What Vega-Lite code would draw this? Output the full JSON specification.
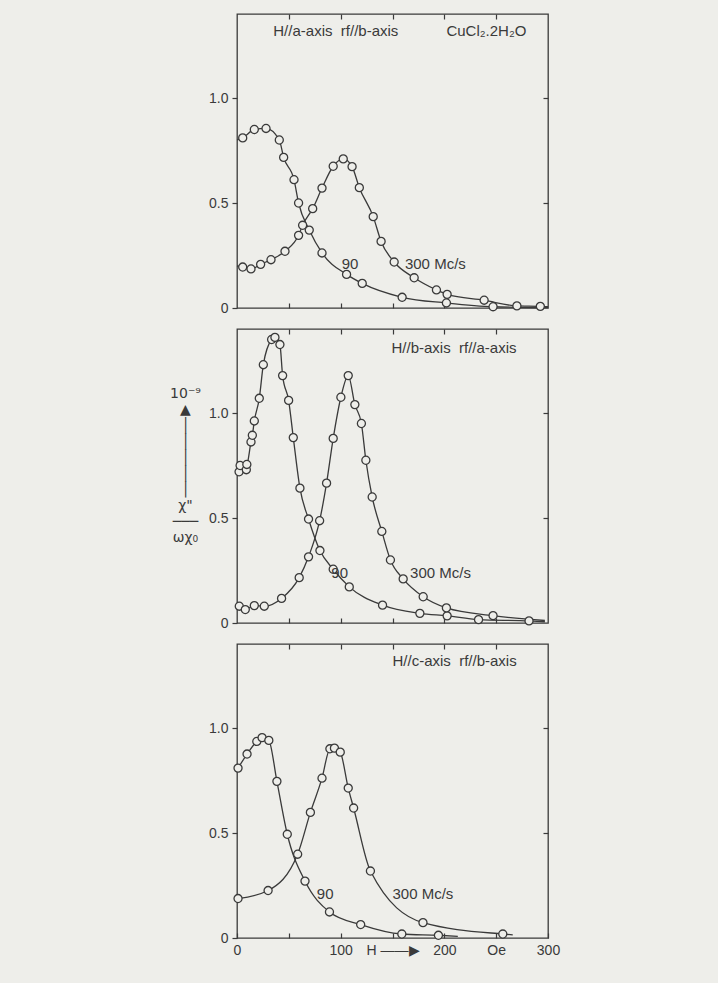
{
  "$schema": "https://vega.github.io/schema/vega-lite/v6.json",
  "background": "#eeeeea",
  "padding": {"left": 168, "top": 12, "right": 157, "bottom": 26},
  "spacing": 11,
  "config": {
    "view": {"stroke": "#3a3a3a", "strokeWidth": 1.3},
    "font": "Liberation Sans",
    "axis": {"domain": false, "grid": false, "tickColor": "#3a3a3a", "tickWidth": 1.2, "labelColor": "#3a3a3a", "labelFontSize": 14, "labelFont": "Liberation Sans", "titleColor": "#3a3a3a"}
  },
  "datasets": {
    "curves": [
      {"p": "a", "s": "90", "k": "ln", "H": 0, "chi": 0.8},
      {"p": "a", "s": "90", "k": "pt", "H": 5.5, "chi": 0.81},
      {"p": "a", "s": "90", "k": "pt", "H": 16.7, "chi": 0.85},
      {"p": "a", "s": "90", "k": "pt", "H": 28, "chi": 0.855},
      {"p": "a", "s": "90", "k": "pt", "H": 40.8, "chi": 0.8},
      {"p": "a", "s": "90", "k": "pt", "H": 45, "chi": 0.717},
      {"p": "a", "s": "90", "k": "pt", "H": 55, "chi": 0.611},
      {"p": "a", "s": "90", "k": "pt", "H": 59.4, "chi": 0.5},
      {"p": "a", "s": "90", "k": "pt", "H": 69.7, "chi": 0.371},
      {"p": "a", "s": "90", "k": "pt", "H": 82, "chi": 0.262},
      {"p": "a", "s": "90", "k": "pt", "H": 105.7, "chi": 0.16},
      {"p": "a", "s": "90", "k": "pt", "H": 120.8, "chi": 0.117},
      {"p": "a", "s": "90", "k": "pt", "H": 159.3, "chi": 0.051},
      {"p": "a", "s": "90", "k": "pt", "H": 202, "chi": 0.024},
      {"p": "a", "s": "90", "k": "pt", "H": 247, "chi": 0.006},
      {"p": "a", "s": "90", "k": "ln", "H": 300, "chi": 0.002},
      {"p": "a", "s": "300", "k": "ln", "H": 0, "chi": 0.2},
      {"p": "a", "s": "300", "k": "pt", "H": 5.5, "chi": 0.195},
      {"p": "a", "s": "300", "k": "pt", "H": 13.5, "chi": 0.186},
      {"p": "a", "s": "300", "k": "pt", "H": 22.8, "chi": 0.208},
      {"p": "a", "s": "300", "k": "pt", "H": 32.8, "chi": 0.23},
      {"p": "a", "s": "300", "k": "pt", "H": 46.3, "chi": 0.27},
      {"p": "a", "s": "300", "k": "pt", "H": 59.4, "chi": 0.346},
      {"p": "a", "s": "300", "k": "pt", "H": 63.3, "chi": 0.394},
      {"p": "a", "s": "300", "k": "pt", "H": 73, "chi": 0.473},
      {"p": "a", "s": "300", "k": "pt", "H": 82, "chi": 0.571},
      {"p": "a", "s": "300", "k": "pt", "H": 92.8, "chi": 0.675},
      {"p": "a", "s": "300", "k": "pt", "H": 102.5, "chi": 0.71},
      {"p": "a", "s": "300", "k": "pt", "H": 111, "chi": 0.673},
      {"p": "a", "s": "300", "k": "pt", "H": 118, "chi": 0.573},
      {"p": "a", "s": "300", "k": "pt", "H": 131.4, "chi": 0.435},
      {"p": "a", "s": "300", "k": "pt", "H": 139, "chi": 0.317},
      {"p": "a", "s": "300", "k": "pt", "H": 151.6, "chi": 0.219},
      {"p": "a", "s": "300", "k": "pt", "H": 170.9, "chi": 0.144},
      {"p": "a", "s": "300", "k": "pt", "H": 192.4, "chi": 0.086},
      {"p": "a", "s": "300", "k": "pt", "H": 202.7, "chi": 0.065},
      {"p": "a", "s": "300", "k": "pt", "H": 238.4, "chi": 0.037},
      {"p": "a", "s": "300", "k": "pt", "H": 270, "chi": 0.01},
      {"p": "a", "s": "300", "k": "pt", "H": 292.6, "chi": 0.008},
      {"p": "a", "s": "300", "k": "ln", "H": 300, "chi": 0.006},
      {"p": "b", "s": "90", "k": "ln", "H": 0, "chi": 0.735},
      {"p": "b", "s": "90", "k": "p", "H": 2, "chi": 0.72},
      {"p": "b", "s": "90", "k": "p", "H": 3, "chi": 0.75},
      {"p": "b", "s": "90", "k": "p", "H": 9, "chi": 0.73},
      {"p": "b", "s": "90", "k": "p", "H": 9.5, "chi": 0.755},
      {"p": "b", "s": "90", "k": "ln", "H": 9, "chi": 0.745},
      {"p": "b", "s": "90", "k": "pt", "H": 13.5, "chi": 0.862},
      {"p": "b", "s": "90", "k": "pt", "H": 14.8, "chi": 0.894},
      {"p": "b", "s": "90", "k": "pt", "H": 16.7, "chi": 0.962},
      {"p": "b", "s": "90", "k": "pt", "H": 21.5, "chi": 1.07},
      {"p": "b", "s": "90", "k": "pt", "H": 25.4, "chi": 1.23},
      {"p": "b", "s": "90", "k": "pt", "H": 33.4, "chi": 1.35},
      {"p": "b", "s": "90", "k": "pt", "H": 36.6, "chi": 1.36},
      {"p": "b", "s": "90", "k": "pt", "H": 41.4, "chi": 1.326},
      {"p": "b", "s": "90", "k": "pt", "H": 44, "chi": 1.178},
      {"p": "b", "s": "90", "k": "pt", "H": 49.8, "chi": 1.06},
      {"p": "b", "s": "90", "k": "pt", "H": 54.3, "chi": 0.883},
      {"p": "b", "s": "90", "k": "pt", "H": 60.7, "chi": 0.642},
      {"p": "b", "s": "90", "k": "pt", "H": 69, "chi": 0.495},
      {"p": "b", "s": "90", "k": "pt", "H": 80, "chi": 0.345},
      {"p": "b", "s": "90", "k": "pt", "H": 92.8, "chi": 0.256},
      {"p": "b", "s": "90", "k": "pt", "H": 108.3, "chi": 0.172},
      {"p": "b", "s": "90", "k": "pt", "H": 140.4, "chi": 0.085},
      {"p": "b", "s": "90", "k": "pt", "H": 176.4, "chi": 0.046},
      {"p": "b", "s": "90", "k": "pt", "H": 202.7, "chi": 0.034},
      {"p": "b", "s": "90", "k": "pt", "H": 233, "chi": 0.016},
      {"p": "b", "s": "90", "k": "pt", "H": 281.7, "chi": 0.01},
      {"p": "b", "s": "90", "k": "ln", "H": 297, "chi": 0.006},
      {"p": "b", "s": "300", "k": "ln", "H": 0, "chi": 0.08},
      {"p": "b", "s": "300", "k": "pt", "H": 2.2, "chi": 0.08},
      {"p": "b", "s": "300", "k": "pt", "H": 8, "chi": 0.064},
      {"p": "b", "s": "300", "k": "pt", "H": 16.7, "chi": 0.083},
      {"p": "b", "s": "300", "k": "pt", "H": 26.3, "chi": 0.08},
      {"p": "b", "s": "300", "k": "pt", "H": 43, "chi": 0.117},
      {"p": "b", "s": "300", "k": "pt", "H": 60, "chi": 0.216},
      {"p": "b", "s": "300", "k": "pt", "H": 69, "chi": 0.315},
      {"p": "b", "s": "300", "k": "pt", "H": 79.7, "chi": 0.487},
      {"p": "b", "s": "300", "k": "pt", "H": 86.4, "chi": 0.666},
      {"p": "b", "s": "300", "k": "pt", "H": 92.8, "chi": 0.879},
      {"p": "b", "s": "300", "k": "pt", "H": 100.2, "chi": 1.075},
      {"p": "b", "s": "300", "k": "pt", "H": 107.3, "chi": 1.178},
      {"p": "b", "s": "300", "k": "pt", "H": 113.7, "chi": 1.04},
      {"p": "b", "s": "300", "k": "pt", "H": 120, "chi": 0.95},
      {"p": "b", "s": "300", "k": "pt", "H": 124.3, "chi": 0.775},
      {"p": "b", "s": "300", "k": "pt", "H": 130.4, "chi": 0.6},
      {"p": "b", "s": "300", "k": "pt", "H": 139.7, "chi": 0.436},
      {"p": "b", "s": "300", "k": "pt", "H": 148, "chi": 0.3},
      {"p": "b", "s": "300", "k": "pt", "H": 160.3, "chi": 0.21},
      {"p": "b", "s": "300", "k": "pt", "H": 179.6, "chi": 0.125},
      {"p": "b", "s": "300", "k": "pt", "H": 202, "chi": 0.072},
      {"p": "b", "s": "300", "k": "pt", "H": 247, "chi": 0.035},
      {"p": "b", "s": "300", "k": "ln", "H": 297, "chi": 0.012},
      {"p": "c", "s": "90", "k": "pt", "H": 1, "chi": 0.809},
      {"p": "c", "s": "90", "k": "pt", "H": 9.7, "chi": 0.876},
      {"p": "c", "s": "90", "k": "pt", "H": 19.1, "chi": 0.936},
      {"p": "c", "s": "90", "k": "pt", "H": 24.2, "chi": 0.954},
      {"p": "c", "s": "90", "k": "pt", "H": 30.7, "chi": 0.941},
      {"p": "c", "s": "90", "k": "pt", "H": 38.5, "chi": 0.746},
      {"p": "c", "s": "90", "k": "pt", "H": 48.5, "chi": 0.494},
      {"p": "c", "s": "90", "k": "pt", "H": 65.6, "chi": 0.271},
      {"p": "c", "s": "90", "k": "pt", "H": 89.2, "chi": 0.124},
      {"p": "c", "s": "90", "k": "pt", "H": 119.3, "chi": 0.064},
      {"p": "c", "s": "90", "k": "pt", "H": 159, "chi": 0.019},
      {"p": "c", "s": "90", "k": "pt", "H": 194.3, "chi": 0.013},
      {"p": "c", "s": "90", "k": "ln", "H": 213, "chi": 0.008},
      {"p": "c", "s": "300", "k": "pt", "H": 1, "chi": 0.188},
      {"p": "c", "s": "300", "k": "pt", "H": 30, "chi": 0.226},
      {"p": "c", "s": "300", "k": "pt", "H": 58.5, "chi": 0.399},
      {"p": "c", "s": "300", "k": "pt", "H": 70.8, "chi": 0.598},
      {"p": "c", "s": "300", "k": "pt", "H": 82, "chi": 0.761},
      {"p": "c", "s": "300", "k": "pt", "H": 89.6, "chi": 0.901},
      {"p": "c", "s": "300", "k": "pt", "H": 94, "chi": 0.904},
      {"p": "c", "s": "300", "k": "pt", "H": 99.6, "chi": 0.885},
      {"p": "c", "s": "300", "k": "pt", "H": 107.3, "chi": 0.714},
      {"p": "c", "s": "300", "k": "pt", "H": 112.5, "chi": 0.619},
      {"p": "c", "s": "300", "k": "pt", "H": 128.7, "chi": 0.319},
      {"p": "c", "s": "300", "k": "pt", "H": 179.4, "chi": 0.073},
      {"p": "c", "s": "300", "k": "pt", "H": 256.4, "chi": 0.019},
      {"p": "c", "s": "300", "k": "ln", "H": 266, "chi": 0.015}
    ],
    "labels": [
      {"p": "a", "H": 35, "chi": 1.317, "t": "H//a-axis\u00a0\u00a0rf//b-axis"},
      {"p": "a", "H": 202, "chi": 1.317, "t": "CuCl₂.2H₂O"},
      {"p": "a", "H": 101, "chi": 0.21, "t": "90"},
      {"p": "a", "H": 162, "chi": 0.21, "t": "300 Mc/s"},
      {"p": "b", "H": 149, "chi": 1.31, "t": "H//b-axis\u00a0\u00a0rf//a-axis"},
      {"p": "b", "H": 91, "chi": 0.24, "t": "90"},
      {"p": "b", "H": 167, "chi": 0.24, "t": "300 Mc/s"},
      {"p": "c", "H": 150, "chi": 1.32, "t": "H//c-axis\u00a0\u00a0rf//b-axis"},
      {"p": "c", "H": 77, "chi": 0.21, "t": "90"},
      {"p": "c", "H": 150, "chi": 0.21, "t": "300 Mc/s"}
    ]
  },
  "vconcat": [
    {
      "width": 311, "height": 294,
      "resolve": {"axis": {"x": "independent", "y": "independent"}},
      "layer": [
        {
          "data": {"name": "curves"},
          "transform": [{"filter": "datum.p == 'a' && datum.k != 'p'"}],
          "mark": {"type": "line", "interpolate": "monotone", "color": "#3a3a3a", "strokeWidth": 1.3},
          "encoding": {
            "x": {"field": "H", "type": "quantitative", "scale": {"domain": [0, 300], "nice": false}, "axis": {"orient": "bottom", "values": [50, 100, 150, 200, 250], "tickSize": -5, "labels": false, "title": null}},
            "y": {"field": "chi", "type": "quantitative", "scale": {"domain": [0, 1.4], "nice": false}, "axis": {"orient": "left", "values": [0, 0.5, 1], "tickSize": 5, "labelExpr": "datum.value == 0 ? '0' : format(datum.value, '.1f')", "labelPadding": 4, "title": null}},
            "detail": {"field": "s"}
          }
        },
        {
          "data": {"name": "curves"},
          "transform": [{"filter": "datum.p == 'a' && datum.k != 'ln'"}],
          "mark": {"type": "point", "shape": "circle", "filled": true, "fill": "#eeeeea", "stroke": "#3a3a3a", "strokeWidth": 1.3, "size": 65, "opacity": 1},
          "encoding": {
            "x": {"field": "H", "type": "quantitative", "scale": {"domain": [0, 300], "nice": false}, "axis": {"orient": "top", "values": [50, 100, 150, 200, 250], "tickSize": -5, "labels": false, "title": null}},
            "y": {"field": "chi", "type": "quantitative", "scale": {"domain": [0, 1.4], "nice": false}, "axis": {"orient": "right", "values": [0.5, 1], "tickSize": -5, "labels": false, "title": null}}
          }
        },
        {
          "data": {"name": "labels"},
          "transform": [{"filter": "datum.p == 'a'"}],
          "mark": {"type": "text", "align": "left", "baseline": "middle", "fontSize": 15, "font": "Liberation Sans", "color": "#3a3a3a"},
          "encoding": {
            "x": {"field": "H", "type": "quantitative", "axis": null},
            "y": {"field": "chi", "type": "quantitative", "axis": null},
            "text": {"field": "t"}
          }
        }
      ]
    },
    {
      "width": 311, "height": 294,
      "resolve": {"axis": {"x": "independent", "y": "independent"}},
      "layer": [
        {
          "data": {"name": "curves"},
          "transform": [{"filter": "datum.p == 'b' && datum.k != 'p'"}],
          "mark": {"type": "line", "interpolate": "monotone", "color": "#3a3a3a", "strokeWidth": 1.3},
          "encoding": {
            "x": {"field": "H", "type": "quantitative", "scale": {"domain": [0, 300], "nice": false}, "axis": {"orient": "bottom", "values": [50, 100, 150, 200, 250], "tickSize": -5, "labels": false, "title": null}},
            "y": {"field": "chi", "type": "quantitative", "scale": {"domain": [0, 1.4], "nice": false}, "axis": {"orient": "left", "values": [0, 0.5, 1], "tickSize": 5, "labelExpr": "datum.value == 0 ? '0' : format(datum.value, '.1f')", "labelPadding": 4,
              "title": ["10⁻⁹", "▲", "│", "│", "│", "│", "│", "χ\"", "───", "ωχ₀"],
              "titleAngle": 0, "titleFont": "DejaVu Sans", "titleFontSize": 14, "titleFontWeight": "normal", "titleLineHeight": 16, "titleAlign": "center", "titleBaseline": "top", "titleX": -52, "titleY": 57}},
            "detail": {"field": "s"}
          }
        },
        {
          "data": {"name": "curves"},
          "transform": [{"filter": "datum.p == 'b' && datum.k != 'ln'"}],
          "mark": {"type": "point", "shape": "circle", "filled": true, "fill": "#eeeeea", "stroke": "#3a3a3a", "strokeWidth": 1.3, "size": 65, "opacity": 1},
          "encoding": {
            "x": {"field": "H", "type": "quantitative", "scale": {"domain": [0, 300], "nice": false}, "axis": {"orient": "top", "values": [50, 100, 150, 200, 250], "tickSize": -5, "labels": false, "title": null}},
            "y": {"field": "chi", "type": "quantitative", "scale": {"domain": [0, 1.4], "nice": false}, "axis": {"orient": "right", "values": [0.5, 1], "tickSize": -5, "labels": false, "title": null}}
          }
        },
        {
          "data": {"name": "labels"},
          "transform": [{"filter": "datum.p == 'b'"}],
          "mark": {"type": "text", "align": "left", "baseline": "middle", "fontSize": 15, "font": "Liberation Sans", "color": "#3a3a3a"},
          "encoding": {
            "x": {"field": "H", "type": "quantitative", "axis": null},
            "y": {"field": "chi", "type": "quantitative", "axis": null},
            "text": {"field": "t"}
          }
        }
      ]
    },
    {
      "width": 311, "height": 294,
      "resolve": {"axis": {"x": "independent", "y": "independent"}},
      "layer": [
        {
          "data": {"name": "curves"},
          "transform": [{"filter": "datum.p == 'c' && datum.k != 'p'"}],
          "mark": {"type": "line", "interpolate": "monotone", "color": "#3a3a3a", "strokeWidth": 1.3},
          "encoding": {
            "x": {"field": "H", "type": "quantitative", "scale": {"domain": [0, 300], "nice": false}, "axis": {"orient": "bottom", "values": [0, 50, 100, 150, 200, 250, 300], "tickSize": -5, "labelPadding": 10, "labelExpr": "datum.value == 50 ? '' : datum.value == 150 ? '\u00a0\u00a0\u00a0\u00a0H ——▶' : datum.value == 250 ? 'Oe' : format(datum.value, 'd')", "labelFlush": false, "labelOverlap": false, "title": null}},
            "y": {"field": "chi", "type": "quantitative", "scale": {"domain": [0, 1.4], "nice": false}, "axis": {"orient": "left", "values": [0, 0.5, 1], "tickSize": 5, "labelExpr": "datum.value == 0 ? '0' : format(datum.value, '.1f')", "labelPadding": 4, "title": null}},
            "detail": {"field": "s"}
          }
        },
        {
          "data": {"name": "curves"},
          "transform": [{"filter": "datum.p == 'c' && datum.k != 'ln'"}],
          "mark": {"type": "point", "shape": "circle", "filled": true, "fill": "#eeeeea", "stroke": "#3a3a3a", "strokeWidth": 1.3, "size": 65, "opacity": 1},
          "encoding": {
            "x": {"field": "H", "type": "quantitative", "scale": {"domain": [0, 300], "nice": false}, "axis": {"orient": "top", "values": [50, 100, 150, 200, 250], "tickSize": -5, "labels": false, "title": null}},
            "y": {"field": "chi", "type": "quantitative", "scale": {"domain": [0, 1.4], "nice": false}, "axis": {"orient": "right", "values": [0.5, 1], "tickSize": -5, "labels": false, "title": null}}
          }
        },
        {
          "data": {"name": "labels"},
          "transform": [{"filter": "datum.p == 'c'"}],
          "mark": {"type": "text", "align": "left", "baseline": "middle", "fontSize": 15, "font": "Liberation Sans", "color": "#3a3a3a"},
          "encoding": {
            "x": {"field": "H", "type": "quantitative", "axis": null},
            "y": {"field": "chi", "type": "quantitative", "axis": null},
            "text": {"field": "t"}
          }
        }
      ]
    }
  ]
}
